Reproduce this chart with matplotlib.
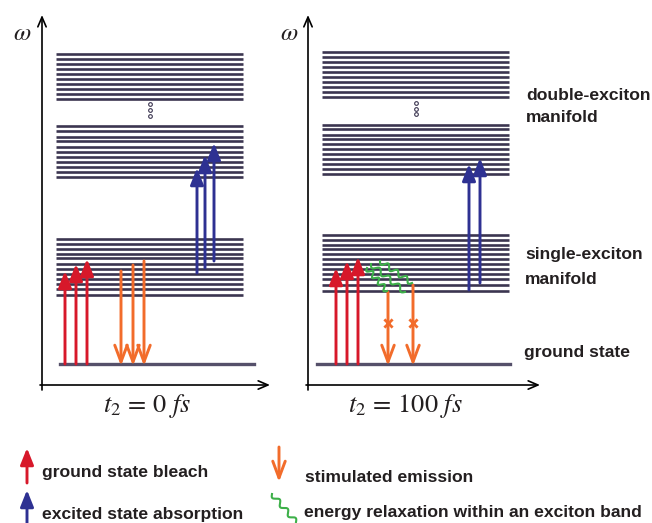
import numpy as np
import matplotlib.pyplot as plt

# level energies (picture y, downward)
left_double_upper = [53.7, 59, 64.3, 69, 74.3, 79.3, 84.3, 89.3, 94.3, 98.7]
left_double_lower = [125.7, 130.7, 136.7, 141, 146.7, 151.7, 156.7, 161.7, 166.7, 171.7, 176.7]
left_single = [239, 244.3, 249, 253.7, 258.3, 263.7, 269.3, 274.3, 279, 284.3, 289.3, 295]
right_double_upper = [51.7, 56.7, 61.7, 66.7, 71.7, 76.7, 82.3, 87.3, 91.7, 96.7]
right_double_lower = [125, 129, 135, 139, 144.3, 149.3, 154.3, 159.3, 164, 169, 173.7]
right_single = [235, 240.3, 245, 249.3, 254.3, 259.3, 264.3, 269.3, 274.3, 279.3, 285, 290.7]
ground = 364

# transitions
gsb_left_x = [65, 76, 87]
gsb_left_top = [271, 264, 259]
se_left_x = [121, 133, 144]
se_left_top = [271, 265, 261]
esa_left_x = [197, 205, 214]
esa_left_bot = [273, 268, 261]
esa_left_top = [168, 155, 143]

gsb_right_x = [336, 347, 358]
gsb_right_top = [268, 261, 257]
se_right_x = [388, 413]
se_right_top = [292, 285]
se_right_cross = 323
esa_right_x = [469, 480]
esa_right_bot = [290, 283]
esa_right_top = [164, 158]
relax_start = [(367, 268), (371, 264), (380, 261)]
relax_end = [(387, 291), (405, 292), (412, 283)]

RED = '#d7182a'
ORANGE = '#f26c2b'
BLUE = '#2e3192'
GREEN = '#3db049'
LEVEL = '#3b3550'
TXT = '#231f20'

fig = plt.figure(figsize=(6.52, 5.23), dpi=100)
ax = fig.add_axes([0, 0, 1, 1])
ax.set_xlim(0, 652)
ax.set_ylim(523, 0)
ax.axis('off')


def arrow(x0, y0, x1, y1, color, style, lw=2.1, z=3):
    ax.annotate('', xy=(x1, y1), xytext=(x0, y0),
                arrowprops=dict(arrowstyle=style, color=color, lw=lw,
                                shrinkA=0, shrinkB=0), zorder=z)


def wavy(p0, p1, color, amp=2.6, waves=3.5, lw=1.5):
    t = np.linspace(0, 1, 200)
    p0 = np.array(p0, float)
    p1 = np.array(p1, float)
    d = p1 - p0
    n = np.array([-d[1], d[0]]) / np.hypot(*d)
    s = amp * np.sin(2 * np.pi * waves * t)
    ax.plot(p0[0] + t * d[0] + s * n[0], p0[1] + t * d[1] + s * n[1],
            color=color, lw=lw, zorder=4)


def levels(ys, x0, x1):
    for y in ys:
        ax.plot([x0, x1], [y, y], color=LEVEL, lw=1.9, solid_capstyle='butt', zorder=2)


up_head = '-|>,head_length=1.0,head_width=0.4'
down_head = '->,head_length=1.2,head_width=0.45'
axis_head = '->,head_length=0.7,head_width=0.3'

# axes
for ax_x, x_end in [(42, 270), (308, 540)]:
    arrow(ax_x, 390, ax_x, 15, 'black', axis_head, lw=1.2)
    arrow(ax_x - 2, 385, x_end, 385, 'black', axis_head, lw=1.2)

# left panel
levels(left_double_upper, 56, 243)
levels(left_double_lower, 56, 243)
levels(left_single, 56, 243)
ax.plot([60, 254], [ground, ground], color='#55506a', lw=2.4, zorder=2)
ax.scatter([150] * 3, [104, 110, 116], s=7, facecolor='white', edgecolor=LEVEL, lw=0.8, zorder=3)

for x, top in zip(gsb_left_x, gsb_left_top):
    arrow(x, ground, x, top, RED, up_head)
for x, top in zip(se_left_x, se_left_top):
    arrow(x, top, x, ground + 2, ORANGE, down_head)
for x, b, top in zip(esa_left_x, esa_left_bot, esa_left_top):
    arrow(x, b, x, top, BLUE, up_head)

# right panel
levels(right_double_upper, 322, 509)
levels(right_double_lower, 322, 509)
levels(right_single, 322, 509)
ax.plot([317, 510], [ground, ground], color='#55506a', lw=2.4, zorder=2)
ax.scatter([416] * 3, [103, 109, 114], s=7, facecolor='white', edgecolor=LEVEL, lw=0.8, zorder=3)

for x, top in zip(gsb_right_x, gsb_right_top):
    arrow(x, ground, x, top, RED, up_head)
for x, top in zip(se_right_x, se_right_top):
    arrow(x, top, x, ground + 2, ORANGE, down_head)
    ax.scatter([x], [se_right_cross], marker='x', s=35, color=ORANGE, lw=2, zorder=5)
for x, b, top in zip(esa_right_x, esa_right_bot, esa_right_top):
    arrow(x, b, x, top, BLUE, up_head)
for p0, p1 in zip(relax_start, relax_end):
    wavy(p0, p1, GREEN)

# labels
plt.rcParams['mathtext.fontset'] = 'stix'
ax.text(22, 33, r'$\omega$', fontsize=18, ha='center', va='center', color=TXT)
ax.text(289, 33, r'$\omega$', fontsize=18, ha='center', va='center', color=TXT)
ax.text(147, 406, r'$t_2\, =\, 0\ fs$', fontsize=19, ha='center', va='center', color=TXT)
ax.text(405, 406, r'$t_2\, =\, 100\ fs$', fontsize=19, ha='center', va='center', color=TXT)

lab = dict(fontsize=12.6, fontweight='bold', family='Liberation Sans', color=TXT, va='center')
ax.text(526, 95, 'double-exciton', **lab)
ax.text(526, 118, 'manifold', **lab)
ax.text(525, 255, 'single-exciton', **lab)
ax.text(525, 279, 'manifold', **lab)
ax.text(524, 352, 'ground state', **lab)

# legend
arrow(27, 483, 27, 448, RED, up_head)
arrow(27, 523, 27, 490, BLUE, up_head)
arrow(279, 447, 279, 482, ORANGE, down_head)
wavy((272, 494), (296, 522), GREEN, amp=2.4, waves=3)
ax.text(42, 473, 'ground state bleach', **lab)
ax.text(42, 514, 'excited state absorption', **lab)
ax.text(305, 478, 'stimulated emission', **lab)
ax.text(304, 513, 'energy relaxation within an exciton band', **lab)

fig.savefig('out.png', dpi=100)
